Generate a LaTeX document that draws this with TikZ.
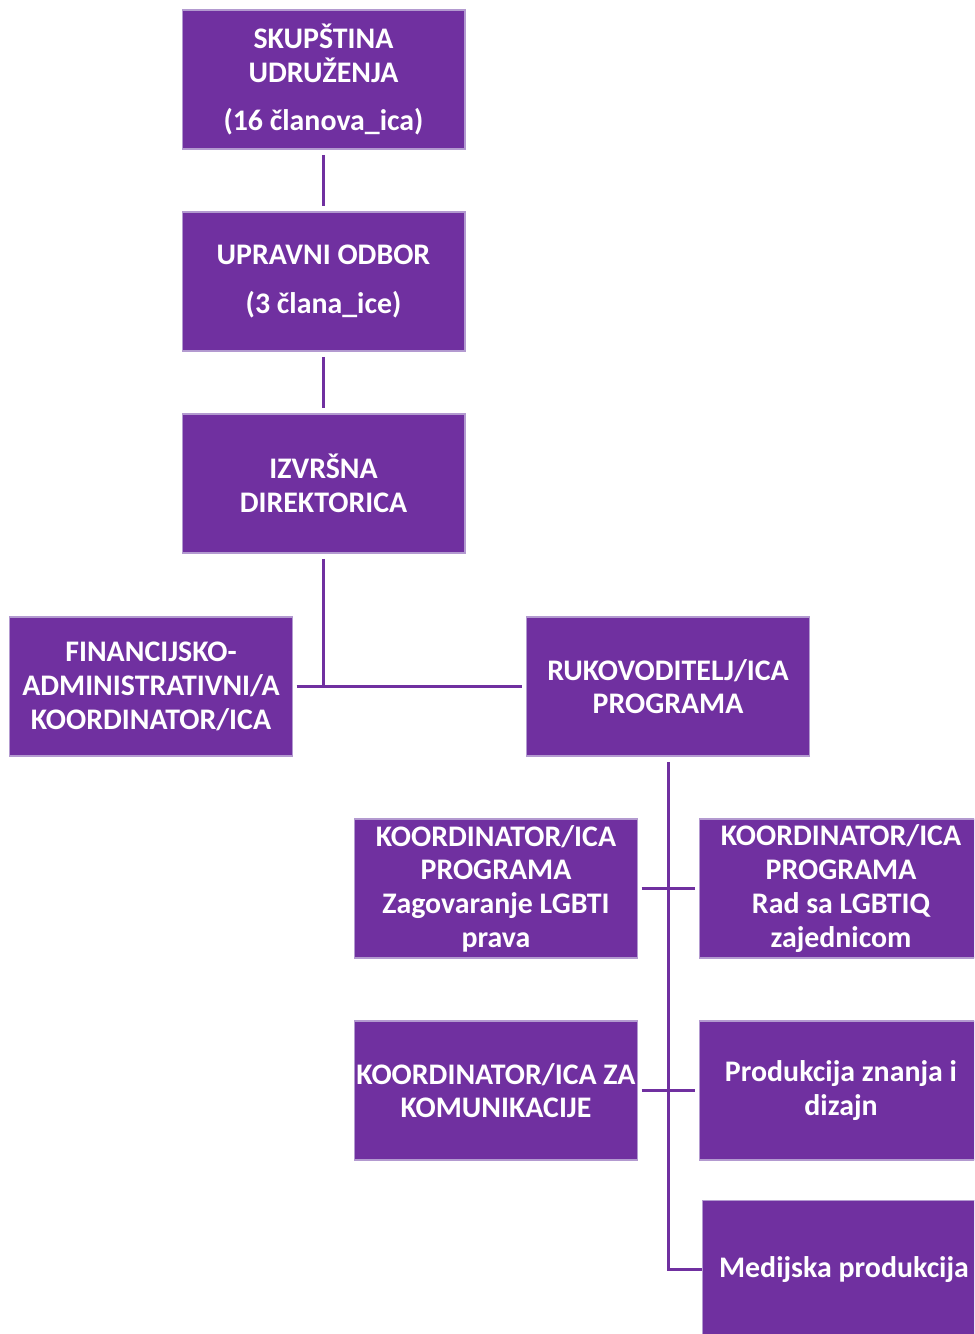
\documentclass[tikz,border=0pt]{standalone}
\usepackage{fontspec}
\setmainfont{Carlito}
\usepackage{tikz}
\usepackage{xcolor}
\definecolor{ljub}{HTML}{7030A0}
\definecolor{rub}{HTML}{B39AD0}
\newcommand\lijevo{323.5}
\newcommand\desno{668}

\begin{document}
\begin{tikzpicture}[x=0.02cm, y=-0.02cm, box/.style = {rectangle, fill=ljub, draw=rub, line width=0.6pt, minimum width=5.66cm, minimum height=2.78cm, inner sep=0pt, align=center, text=white, font=\fontsize{17}{19.2}\selectfont\bfseries}, veza/.style = {ljub, line width=1.7pt}]

    \useasboundingbox (0, 0) rectangle (974, 1334);
    \clip (0, 0) rectangle (974, 1334);

    \node at (\lijevo, 79.5) [box] (skupstina) {SKUPŠTINA\\UDRUŽENJA\\[0.3cm](16 članova\_ica)};
    \node at (\lijevo, 281.5) [box] (odbor) {UPRAVNI ODBOR\\[0.3cm](3 člana\_ice)};
    \node at (\lijevo, 483.5) [box] (direktorica) {IZVRŠNA\\DIREKTORICA};
    \node at (151, 686.5) [box] (financ) {FINANCIJSKO-\\ADMINISTRATIVNI/A\\KOORDINATOR/ICA};
    \node at (\desno, 686.5) [box] (rukov) {RUKOVODITELJ/ICA\\PROGRAMA};

    \node at (496, 888.5) [box] (zagov) {KOORDINATOR/ICA\\PROGRAMA\\Zagovaranje LGBTI\\prava};
    \node at (841, 888.5) [box] (zajed) {KOORDINATOR/ICA\\PROGRAMA\\Rad sa LGBTIQ\\zajednicom};
    \node at (496, 1090.5) [box] (komun) {KOORDINATOR/ICA ZA\\KOMUNIKACIJE};
    \node at (841, 1090.5) [box] (produk) {Produkcija znanja i\\dizajn};
    \node at (844, 1269.5) [box] (medij) {Medijska produkcija};

    %vrh
    \draw[veza, shorten <=3pt, shorten >=3pt] (skupstina) -- (odbor);
    \draw[veza, shorten <=3pt, shorten >=3pt] (odbor) -- (direktorica);

    %sredina
    \draw[veza, shorten <=3pt] (direktorica.south) -- (direktorica.south |- rukov.west);
    \draw[veza, shorten <=2pt, shorten >=2pt] (financ.east) -- (rukov.west);

    %programi
    \draw[veza, shorten <=3pt] (rukov.south) |- (medij.west);
    \draw[veza, shorten <=2pt, shorten >=2pt] (zagov.east) -- (zajed.west);
    \draw[veza, shorten <=2pt, shorten >=2pt] (komun.east) -- (produk.west);
\end{tikzpicture}
\end{document}
